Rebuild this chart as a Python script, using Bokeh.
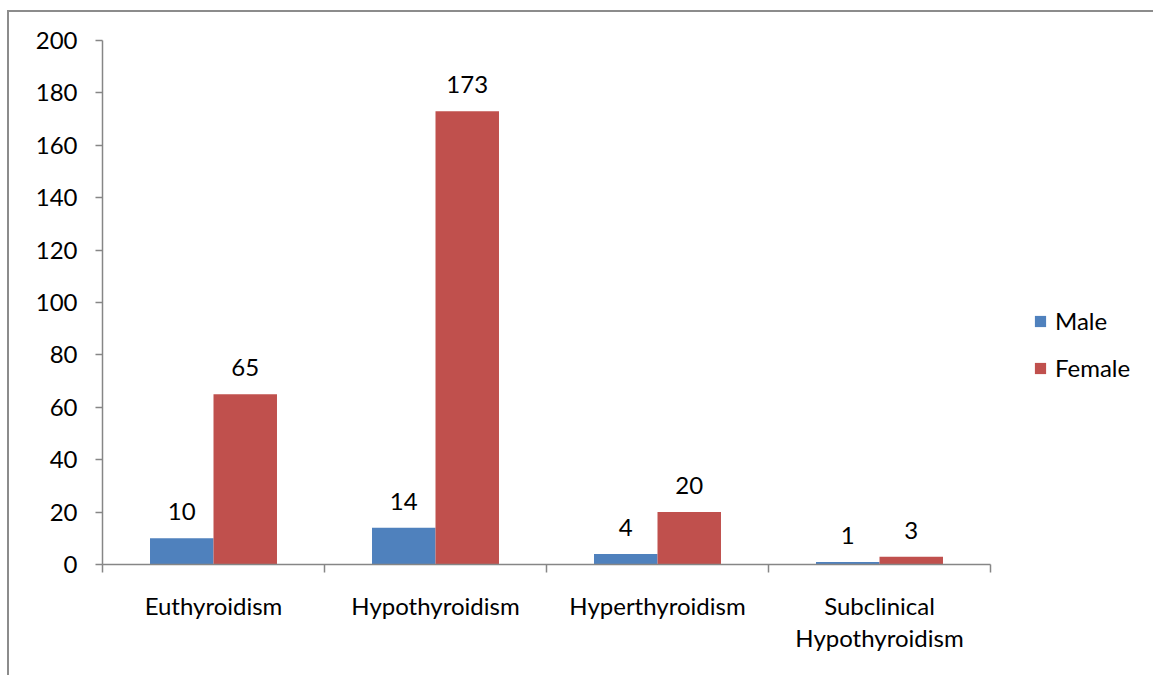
from bokeh.plotting import figure
from bokeh.models import (ColumnDataSource, Range1d, FixedTicker, Legend, LegendItem, LabelSet)
from bokeh.core.properties import value
from bokeh.embed import file_html
from bokeh.resources import INLINE

categories = ["Euthyroidism", "Hypothyroidism", "Hyperthyroidism", "Subclinical\nHypothyroidism"]
male = [10, 14, 4, 1]
female = [65, 173, 20, 3]
y_ticks = [0, 20, 40, 60, 80, 100, 120, 140, 160, 180, 200]

FONT = "Lato"
FS = "24px"
BLUE = "#4F81BD"
RED = "#C0504D"
GRAY = "#868686"

W, H = 1146, 665
ML, MT, MB = 93, 28, 113
AXIS_PX = 888  # pixel width of the category axis
n = len(categories)
x_end = n * (W - ML) / AXIS_PX  # frame extends to the right to hold the legend

bw = 0.286
idx = list(range(n))
xm = [i + 0.5 - bw / 2 for i in idx]
xf = [i + 0.5 + bw / 2 for i in idx]

src_m = ColumnDataSource(dict(x=xm, top=male, lbl=[str(v) for v in male]))
src_f = ColumnDataSource(dict(x=xf, top=female, lbl=[str(v) for v in female]))

p = figure(width=W, height=H, x_range=Range1d(0, x_end), y_range=Range1d(0, 200),
           output_backend="svg", toolbar_location=None,
           min_border_left=ML, min_border_right=0, min_border_top=MT, min_border_bottom=MB)
p.margin = (10, 0, 0, 7)
p.styles = {"border-left": "2px solid #8C8C8C", "border-top": "2px solid #8C8C8C"}
p.outline_line_color = None
p.xgrid.visible = False
p.ygrid.visible = False
p.background_fill_color = "white"
p.border_fill_color = "white"

rm = p.vbar(x="x", top="top", width=bw, bottom=0, source=src_m, fill_color=BLUE, line_color=None)
rf = p.vbar(x="x", top="top", width=bw, bottom=0, source=src_f, fill_color=RED, line_color=None)

for s in (src_m, src_f):
    p.add_layout(LabelSet(x="x", y="top", text="lbl", source=s, text_align="center",
                          text_baseline="alphabetic", y_offset=18,
                          text_font=value(FONT), text_font_size=FS, text_color="black"))

# y axis
ya = p.yaxis[0]
ya.ticker = FixedTicker(ticks=y_ticks)
ya.axis_line_color = GRAY
ya.axis_line_width = 1.5
ya.major_tick_line_color = GRAY
ya.major_tick_line_width = 1.5
ya.major_tick_out = 7
ya.major_tick_in = 0
ya.minor_tick_line_color = None
ya.major_label_standoff = 18
ya.major_label_text_font = FONT
ya.major_label_text_font_size = FS
ya.major_label_text_color = "black"

# x axis
xa = p.xaxis[0]
xa.bounds = (0, n)
xa.ticker = FixedTicker(ticks=[i + 0.5 for i in idx], minor_ticks=list(range(n + 1)))
xa.major_label_overrides = {i + 0.5: c for i, c in zip(idx, categories)}
xa.axis_line_color = GRAY
xa.axis_line_width = 1.5
xa.major_tick_line_color = None
xa.major_tick_out = 0
xa.major_tick_in = 0
xa.minor_tick_line_color = GRAY
xa.minor_tick_line_width = 1.5
xa.minor_tick_out = 8
xa.minor_tick_in = 0
xa.major_label_standoff = 18
xa.major_label_text_font = FONT
xa.major_label_text_font_size = FS
xa.major_label_text_line_height = 1.13
xa.major_label_text_color = "black"
xa.major_label_text_align = "center"

legend = Legend(items=[LegendItem(label="Male", renderers=[rm]),
                       LegendItem(label="Female", renderers=[rf])],
                location=(931, 182))
legend.border_line_color = None
legend.background_fill_alpha = 0
legend.glyph_width = 14
legend.glyph_height = 14
legend.label_standoff = 8
legend.spacing = 18
legend.label_text_font = FONT
legend.label_text_font_size = FS
legend.label_text_color = "black"
legend.padding = 0
legend.margin = 0
p.add_layout(legend, "center")

open("out.html", "w").write(file_html(p, INLINE))
